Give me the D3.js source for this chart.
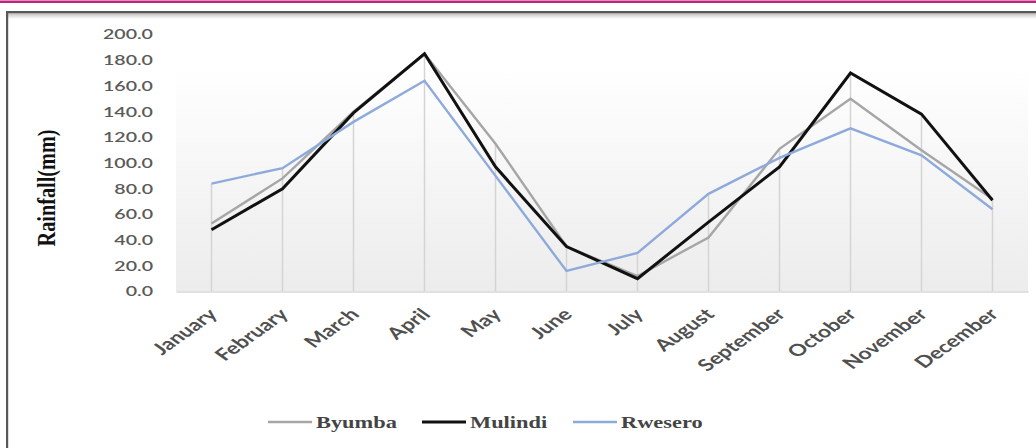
<!DOCTYPE html>
<html>
<head>
<meta charset="utf-8">
<script src="https://cdn.jsdelivr.net/npm/d3@7"></script>
<style>
  html, body { margin: 0; padding: 0; background: #fff; }
  svg { display: block; }
</style>
</head>
<body>
<svg id="chart" width="1036" height="448"></svg>
<script>
const months = ["January","February","March","April","May","June","July","August","September","October","November","December"];
const byumba  = [53, 88, 140, 185, 115, 35, 12, 42, 111, 150, 110, 72];
const mulindi = [48, 80, 139, 185, 97, 35, 10, 54, 97, 170, 138, 71];
const rwesero = [84, 96, 132, 164, 90, 16, 30, 76, 104, 127, 106, 64];
const yTicks  = [0, 20, 40, 60, 80, 100, 120, 140, 160, 180, 200];
const seriesNames = ["Byumba", "Mulindi", "Rwesero"];

const series = [
  { name: seriesNames[0], values: byumba,  color: "#a6a6a6", width: 2.4 },
  { name: seriesNames[1], values: mulindi, color: "#111111", width: 3 },
  { name: seriesNames[2], values: rwesero, color: "#8eaadb", width: 2.4 }
];

const SX = 1.4; // horizontal stretch of the original picture

const svg = d3.select("#chart");

const defs = svg.append("defs");
const grad = defs.append("linearGradient").attr("id", "bg").attr("x1", 0).attr("y1", 0).attr("x2", 0).attr("y2", 1);
grad.append("stop").attr("offset", "0%").attr("stop-color", "#ffffff");
grad.append("stop").attr("offset", "100%").attr("stop-color", "#ececec");
const shadow = defs.append("linearGradient").attr("id", "shadow").attr("x1", 0).attr("y1", 0).attr("x2", 0).attr("y2", 1);
shadow.append("stop").attr("offset", "0%").attr("stop-color", "#bdbdbd");
shadow.append("stop").attr("offset", "100%").attr("stop-color", "#ffffff");

// top magenta rule
svg.append("rect").attr("x", 0).attr("y", 0.5).attr("width", 1036).attr("height", 2.5).attr("fill", "#c0247a");
// frame
svg.append("rect").attr("x", 7).attr("y", 13).attr("width", 1029).attr("height", 6).attr("fill", "url(#shadow)");
svg.append("rect").attr("x", 6).attr("y", 11).attr("width", 1030).attr("height", 2.2).attr("fill", "#585858");
svg.append("rect").attr("x", 6).attr("y", 11).attr("width", 2.2).attr("height", 437).attr("fill", "#585858");

const x = d3.scaleBand().domain(months).range([176, 1028]);
const y = d3.scaleLinear().domain([0, 200]).range([291.5, 34.5]);
const cx = m => x(m) + x.bandwidth() / 2;

// plot background
svg.append("rect").attr("x", 176).attr("y", y(175)).attr("width", 852).attr("height", y(0) - y(175)).attr("fill", "url(#bg)");

// drop lines
const maxes = months.map((m, i) => d3.max(series, s => s.values[i]));
svg.append("g").selectAll("line").data(months).join("line")
  .attr("x1", d => cx(d)).attr("x2", d => cx(d))
  .attr("y1", (d, i) => y(maxes[i])).attr("y2", y(0))
  .attr("stroke", "#d4d4d4").attr("stroke-width", 1.5);

// x axis
const xAxis = svg.append("g").attr("transform", `translate(0,${y(0)})`)
  .call(d3.axisBottom(x).tickSize(0).tickPadding(0));
xAxis.select(".domain").attr("stroke", "#d9d9d9").attr("stroke-width", 1.5);
xAxis.selectAll("text")
  .attr("font-family", "Lato, 'Open Sans', sans-serif")
  .attr("font-size", 16.5).attr("font-weight", 700).attr("fill", "#505050")
  .attr("text-anchor", "end").attr("dy", 0).attr("y", 0)
  .attr("transform", `translate(7,24) scale(${SX},1) rotate(-45)`);

// y axis
const yAxis = svg.append("g").attr("transform", "translate(153,0)")
  .call(d3.axisLeft(y).tickValues(yTicks).tickFormat(d3.format(".1f")).tickSize(0).tickPadding(0));
yAxis.select(".domain").remove();
yAxis.selectAll(".tick text")
  .attr("font-family", "Lato, 'Open Sans', sans-serif")
  .attr("font-size", 14).attr("font-weight", 600).attr("fill", "#5a5a5a")
  .attr("x", 0)
  .attr("transform", `scale(${SX},1)`);

// y title
svg.append("text")
  .attr("transform", `translate(55,188) scale(${SX},1) rotate(-90)`)
  .attr("text-anchor", "middle")
  .attr("font-family", "'Liberation Serif', 'DejaVu Serif', serif")
  .attr("font-weight", "bold").attr("font-size", 18)
  .attr("textLength", 117).attr("lengthAdjust", "spacingAndGlyphs")
  .attr("fill", "#111")
  .text("Rainfall(mm)");

// lines
const line = d3.line().x((d, i) => cx(months[i])).y(d => y(d));
svg.append("g").selectAll("path").data(series).join("path")
  .attr("d", s => line(s.values))
  .attr("fill", "none")
  .attr("stroke", s => s.color)
  .attr("stroke-width", s => s.width)
  .attr("stroke-linejoin", "miter");

// legend
const legendX = [268, 422, 573];
const lg = svg.append("g").selectAll("g").data(series).join("g")
  .attr("transform", (d, i) => `translate(${legendX[i]},422)`);
lg.append("line").attr("x1", 0).attr("x2", 44).attr("y1", 0).attr("y2", 0)
  .attr("stroke", d => d.color).attr("stroke-width", d => d.width);
lg.append("text")
  .attr("transform", `translate(48,5.5) scale(${SX},1)`)
  .attr("font-family", "'Liberation Serif', 'DejaVu Serif', serif")
  .attr("font-weight", "bold").attr("font-size", 16)
  .attr("fill", "#444")
  .text(d => d.name);
</script>
</body>
</html>
